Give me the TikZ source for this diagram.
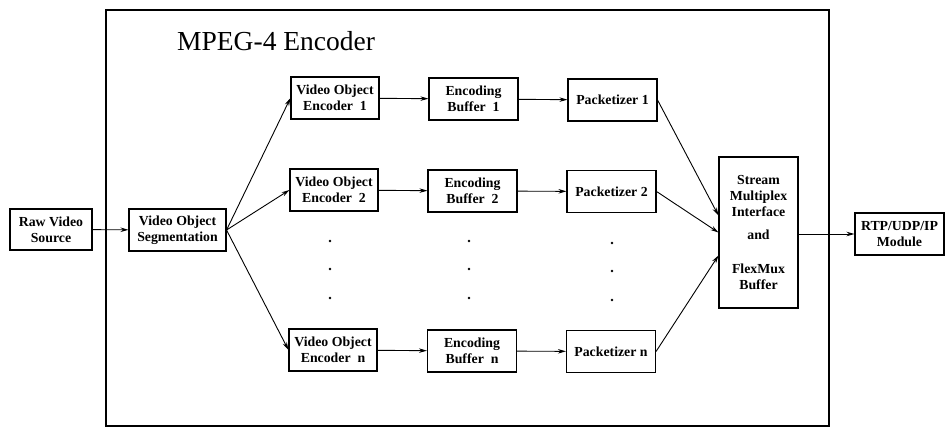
\documentclass[tikz,border=0pt]{standalone}
\usepackage{fontspec}
\setmainfont{Liberation Serif}
\usetikzlibrary{arrows.meta}

\tikzset{
  blk/.style={draw, line width=1.1pt, minimum width=88pt, minimum height=42pt,
    inner sep=1pt, align=center, font=\bfseries\fontsize{13.8}{16}\selectfont},
  flow/.style={line width=0.9pt, -{Stealth[length=8pt,width=4.5pt]}},
  frame/.style={line width=1.8pt},
  dot/.style={circle, fill, inner sep=0pt, minimum size=2.8pt}
}

\begin{document}
\begin{tikzpicture}[x=1pt, y=-1pt]
\useasboundingbox (0,0) rectangle (946,431);

% encoder enclosure and its heading
\draw[frame] (106,10) rectangle (829,426);
\node[anchor=base west, inner sep=0pt, font=\fontsize{27.5}{30}\selectfont] (title) at (177,50) {MPEG-4 Encoder};

% outside blocks
\node[blk, minimum width=82pt, minimum height=41pt] (raw) at (51,229.5) {Raw Video\\Source};
\node[blk, minimum width=89pt] (rtp) at (899.5,234) {RTP/UDP/IP\\Module};

% segmentation
\node[blk, minimum width=97pt] (seg) at (177.5,230) {Video Object\\Segmentation};

% per-object pipelines
\node[blk] (voe1) at (335,98)  {Video Object\\Encoder\enspace1};
\node[blk] (voe2) at (334,190) {Video Object\\Encoder\enspace2};
\node[blk] (voen) at (333,350) {Video Object\\Encoder\enspace n};

\node[blk, minimum width=89pt] (buf1) at (473.5,99)  {Encoding\\Buffer\enspace1};
\node[blk, minimum width=89pt] (buf2) at (472.5,191) {Encoding\\Buffer\enspace2};
\node[blk, minimum width=89pt] (bufn) at (472,351)   {Encoding\\Buffer\enspace n};

\node[blk, minimum width=89pt] (pk1) at (612.5,100)  {Packetizer 1};
\node[blk, minimum width=89pt] (pk2) at (611.5,191.5) {Packetizer 2};
\node[blk, minimum width=89pt] (pkn) at (611,351.5)  {Packetizer n};

% multiplexer
\node[blk, minimum width=79pt, minimum height=151pt] (mux) at (758.5,232.5)
  {Stream\\Multiplex\\Interface\\[7pt]and\\[18pt]FlexMux\\Buffer};

% ellipsis dots
\foreach \cx/\dy [count=\i] in {330/0, 469/0, 612/2} {
  \node[dot] (d\i a) at (\cx,241+\dy) {};
  \node[dot] (d\i b) at (\cx,269+\dy) {};
  \node[dot] (d\i c) at (\cx,298+\dy) {};
}

% connectors
\draw[flow] (raw) -- (seg);
\draw[flow] (seg.east) -- (voe1.west);
\draw[flow] (seg.east) -- (voe2.west);
\draw[flow] (seg.east) -- (voen.west);
\draw[flow] (voe1) -- (buf1);
\draw[flow] (voe2) -- (buf2);
\draw[flow] (voen) -- (bufn);
\draw[flow] (buf1) -- (pk1);
\draw[flow] (buf2) -- (pk2);
\draw[flow] (bufn) -- (pkn);
\draw[flow] (pk1.east) -- ([yshift=17pt]mux.west);
\draw[flow] (pk2.east) -- (mux.west);
\draw[flow] (pkn.east) -- ([yshift=-23pt]mux.west);
\draw[flow] (mux.east |- rtp.west) -- (rtp.west);
\end{tikzpicture}
\end{document}
